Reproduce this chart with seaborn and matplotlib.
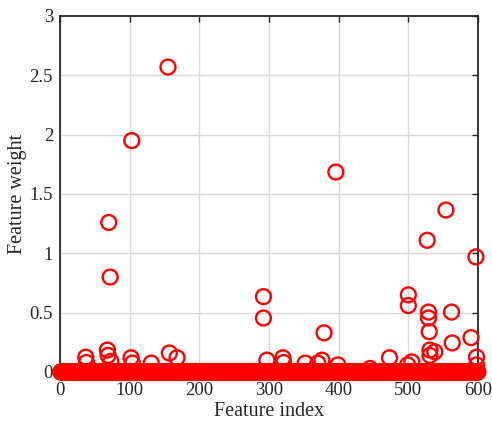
"""
特征权重散点图
"""

import matplotlib
matplotlib.use("Agg")
import matplotlib.pyplot as plt
import seaborn as sns
import pandas as pd
import numpy as np

# ==================== 数据 ====================
n_features = 600

# 非零（或明显偏离 0）的特征索引与权重
nonzero_idx = [37, 38, 68, 69, 70, 72, 73, 102, 103, 104, 131, 155, 157, 168,
               292, 292, 297, 320, 321, 352, 370, 376, 379, 396, 399,
               445, 473, 499, 500, 500, 505, 527, 529, 529, 530, 531, 531, 538,
               554, 562, 563, 590, 597, 598, 598]
nonzero_w = [0.125, 0.08, 0.185, 0.14, 1.26, 0.80, 0.09, 0.12, 1.95, 0.075, 0.075, 2.57, 0.16, 0.12,
             0.635, 0.455, 0.10, 0.12, 0.08, 0.075, 0.075, 0.10, 0.33, 1.685, 0.06,
             0.03, 0.12, 0.06, 0.65, 0.56, 0.085, 1.11, 0.505, 0.455, 0.34, 0.185, 0.14, 0.17,
             1.365, 0.505, 0.245, 0.29, 0.97, 0.125, 0.06]

feature_idx = np.arange(1, n_features + 1)
weights = np.zeros(n_features)

df = pd.DataFrame({"index": np.concatenate([feature_idx, nonzero_idx]),
                   "weight": np.concatenate([weights, nonzero_w])})

x_ticks = [0, 100, 200, 300, 400, 500, 600]
y_ticks = [0, 0.5, 1, 1.5, 2, 2.5, 3]
y_tick_labels = ["0", "0.5", "1", "1.5", "2", "2.5", "3"]

# ==================== 样式 ====================
sns.set_style("whitegrid")
plt.rcParams['font.family'] = ['Liberation Serif', 'DejaVu Serif']
plt.rcParams['axes.unicode_minus'] = False

fig = plt.figure(figsize=(4.92, 4.21), dpi=100)
ax = fig.add_axes([60 / 492, 1 - 372 / 421, 418 / 492, 356 / 421])

sns.scatterplot(data=df, x="index", y="weight", ax=ax,
                marker="o", s=115, facecolors="none", edgecolor="#ff0000",
                linewidth=1.7, clip_on=False, zorder=3)

ax.set_xlim(0, 600)
ax.set_ylim(0, 3)
ax.set_xticks(x_ticks)
ax.set_yticks(y_ticks)
ax.set_yticklabels(y_tick_labels)

ax.grid(True, color="#d9d9d9", linewidth=1.0)
for s in ax.spines.values():
    s.set_visible(True)
    s.set_color("#262626")
    s.set_linewidth(1.3)

ax.tick_params(axis="both", which="both", direction="in", length=4, width=1.0,
               colors="#262626", labelcolor="#262626", labelsize=13.5,
               top=True, right=True)
ax.tick_params(axis="x", pad=7)
ax.tick_params(axis="y", pad=5)

ax.set_xlabel("Feature index", fontsize=14.5, labelpad=2, color="#262626")
ax.set_ylabel("Feature weight", fontsize=14.5, labelpad=2, color="#262626")

fig.savefig("out.png", dpi=100)
